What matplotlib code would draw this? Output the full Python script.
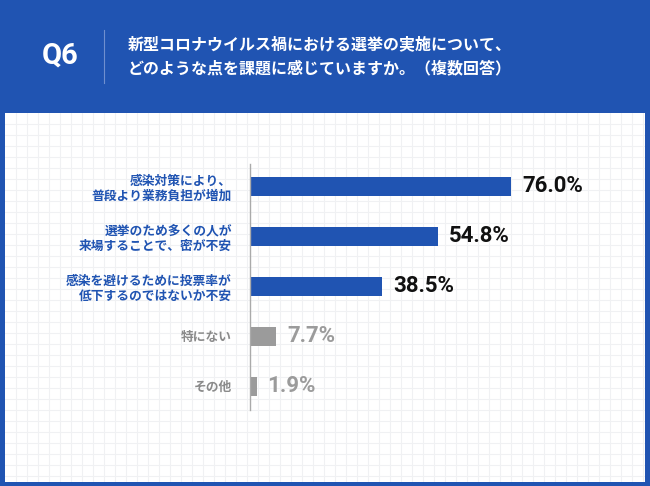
import numpy as np
import matplotlib
matplotlib.use("Agg")
import matplotlib.pyplot as plt
from matplotlib.lines import Line2D

plt.rcParams['font.family'] = ['Noto Sans CJK JP', 'DejaVu Sans']

labels = ["感染対策により、\n普段より業務負担が増加",
          "選挙のため多くの人が\n来場することで、密が不安",
          "感染を避けるために投票率が\n低下するのではないか不安",
          "特にない",
          "その他"]
values = [76.0, 54.8, 38.5, 7.7, 1.9]
highlight = [True, True, True, False, False]

BLUE = "#2054B2"
GRAY = "#9B9B9B"
W, H = 650, 486

fig = plt.figure(figsize=(6.5, 4.86), dpi=100)
fig.patch.set_facecolor(BLUE)

# ── white panel with light grid ─────────────────────────────
pan = fig.add_axes([5 / W, 1 - 482 / H, 640 / W, 369 / H])
pan.set_facecolor("white")
pan.set_xlim(0, 640); pan.set_ylim(369, 0)
for gx in np.arange(11, 640, 11):
    pan.axvline(gx, color="#f0f1f3", lw=0.8)
for gy in np.arange(11, 369, 11):
    pan.axhline(gy, color="#f0f1f3", lw=0.8)
pan.set_xticks([]); pan.set_yticks([])
for s in pan.spines.values():
    s.set_visible(False)

# ── header ──────────────────────────────────────────────────
fig.text(60 / W, 1 - 56 / H, "Q6", color="white", fontsize=21,
         fontweight="bold", family=["Roboto", "DejaVu Sans"],
         ha="center", va="center")
fig.add_artist(Line2D([104 / W, 104 / W], [1 - 30 / H, 1 - 83 / H],
                      color="#6f8fcf", lw=0.8))
fig.text(128 / W, 1 - 44 / H, "新型コロナウイルス禍における選挙の実施について、",
         color="white", fontsize=11.5, fontweight="bold", ha="left", va="center")
fig.text(128 / W, 1 - 68 / H, "どのような点を課題に感じていますか。（複数回答）",
         color="white", fontsize=11.5, fontweight="bold", ha="left", va="center")

# ── bars ────────────────────────────────────────────────────
ax = fig.add_axes([250 / W, 1 - 410 / H, 343.4 / W, 246 / H])
ax.patch.set_alpha(0)
y = np.arange(len(values))
colors = [BLUE if h else GRAY for h in highlight]
ax.barh(y, values, height=0.38, color=colors)
ax.set_xlim(0, 100)
ax.set_ylim(4.48, -0.44)
for s in ["top", "right", "bottom"]:
    ax.spines[s].set_visible(False)
ax.spines["left"].set_color("#aaaaaa")
ax.spines["left"].set_linewidth(1.0)
ax.set_xticks([])
ax.set_yticks(y)
ax.set_yticklabels(labels, fontsize=9.2, fontweight="bold", linespacing=1.25)
ax.tick_params(axis="y", length=0, pad=13)
for lab, h in zip(ax.get_yticklabels(), highlight):
    lab.set_color(BLUE if h else "#8a8a8a")
    lab.set_ha("right")

for yi, v, h in zip(y, values, highlight):
    ax.text(v + 3.2, yi, f"{v:.1f}%", va="center", ha="left",
            fontsize=16, fontweight="bold", family=["Roboto", "DejaVu Sans"],
            color="#111111" if h else GRAY)

fig.savefig("out.png", dpi=100, facecolor=fig.get_facecolor())
